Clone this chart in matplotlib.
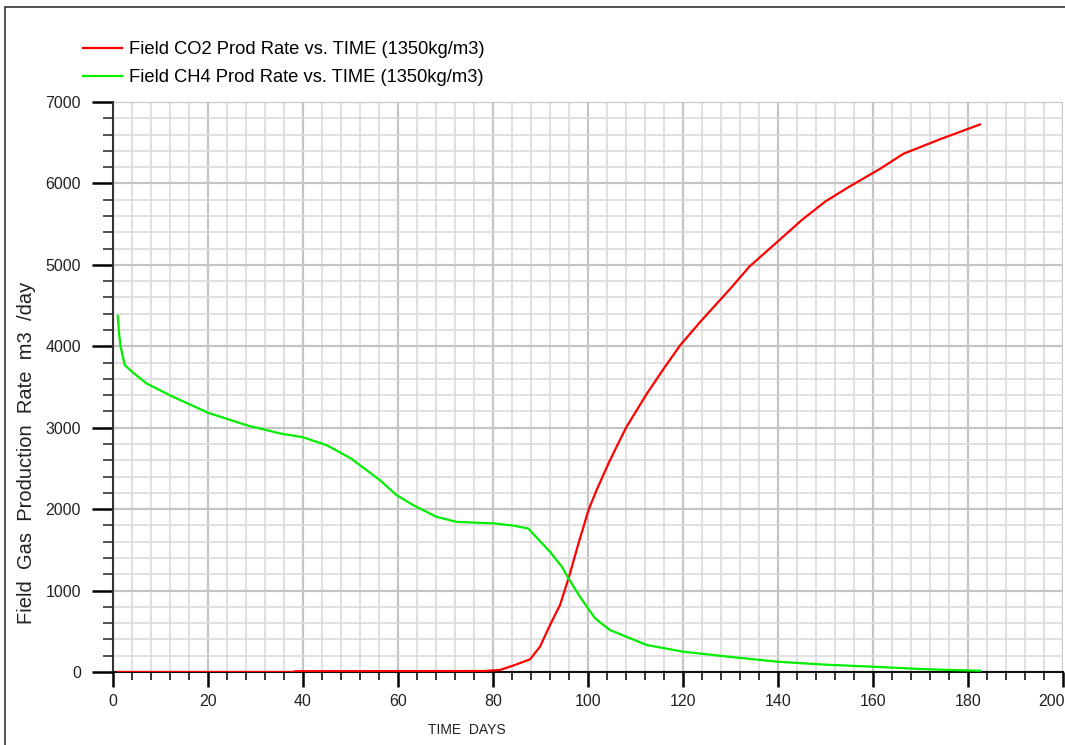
import matplotlib
matplotlib.use("Agg")
import matplotlib.pyplot as plt
from matplotlib.patches import Rectangle
from matplotlib.ticker import MultipleLocator, FuncFormatter

plt.rcParams['font.family'] = ['Liberation Sans', 'DejaVu Sans']

# CO2 production rate (m3/day) vs time (days)
days_co2 = [1, 38, 38.3, 78, 81.5, 84.6, 87.8, 89.9, 92, 94.1, 95.9, 98, 100.1,
            101.8, 104.3, 106, 108.1, 112.4, 116, 119.4, 123.6, 130, 134, 140,
            145, 150, 155, 161.5, 166.4, 174, 182.5]
co2_rate = [0, 0, 10, 12, 25, 86, 156, 311, 577, 822, 1149, 1579, 1988,
            2233, 2560, 2764, 3010, 3419, 3730, 4012, 4298, 4710, 4980, 5290,
            5550, 5780, 5960, 6180, 6364, 6540, 6724]

# CH4 production rate (m3/day) vs time (days)
days_ch4 = [1, 1.3, 1.6, 2.5, 4.3, 7.1, 12.7, 20.1, 28.1, 35.2, 40, 45, 50,
            56.2, 59.7, 63.2, 68.1, 72.3, 80.1, 84, 87.4, 92, 94.5, 95.9, 98.3,
            101.5, 104.6, 108.1, 112.4, 120.1, 130, 140, 150, 160, 170, 176, 182.5]
ch4_rate = [4372, 4150, 3991, 3767, 3673, 3542, 3378, 3182, 3031, 2929, 2883,
            2785, 2626, 2356, 2172, 2049, 1906, 1844, 1825, 1800, 1763, 1476,
            1292, 1149, 924, 659, 515, 433, 331, 249, 185, 126, 90, 65, 37, 25, 16]

labels = ['Field CO2 Prod Rate vs. TIME (1350kg/m3)',
          'Field CH4 Prod Rate vs. TIME (1350kg/m3)']

x_max = 200

fig = plt.figure(figsize=(10.65, 7.45), dpi=100)
ax = fig.add_axes([113/1065, 1 - 672/745, 950/1065, 570/745])

l1, = ax.plot(days_co2, co2_rate, color='#ff0000', lw=1.6, zorder=3)
l2, = ax.plot(days_ch4, ch4_rate, color='#00ee00', lw=1.6, zorder=3)

ax.set_xlim(0, x_max)
ax.set_ylim(0, 7000)
ax.xaxis.set_major_locator(MultipleLocator(20))
ax.xaxis.set_minor_locator(MultipleLocator(4))
ax.yaxis.set_major_locator(MultipleLocator(1000))
ax.yaxis.set_minor_locator(MultipleLocator(200))
# last label is drawn separately so it stays inside the picture
ax.xaxis.set_major_formatter(FuncFormatter(lambda v, p: '' if v >= x_max else f'{v:.0f}'))

ax.grid(which='major', color='#c4c4c4', lw=1.6)
ax.grid(which='minor', color='#dadada', lw=1.2)
ax.set_axisbelow(True)

for s in ['top', 'right']:
    ax.spines[s].set_visible(False)
ax.spines['left'].set_color('#333333')
ax.spines['bottom'].set_color('#111111')
ax.spines['left'].set_linewidth(1.5)
ax.spines['bottom'].set_linewidth(1.5)

ax.tick_params(axis='y', which='major', direction='out', length=15, width=1.8,
               pad=8, labelsize=11.5, colors='black', labelcolor='#222222')
ax.tick_params(axis='y', which='minor', direction='out', length=7.5, width=1.2,
               color='#333333')
ax.tick_params(axis='x', which='major', direction='out', length=10.5, width=1.8,
               pad=5, labelsize=11.5, labelcolor='#222222')
ax.tick_params(axis='x', which='minor', direction='out', length=5.5, width=1.2,
               color='#111111')

ax.annotate(f'{x_max}', xy=(x_max, 0), xycoords=('data', 'axes fraction'),
            xytext=(1, -15.5), textcoords='offset points', ha='right', va='top',
            fontsize=11.5, color='#222222', annotation_clip=False)

fig.text(27/1065, 1 - 453/745, 'Field  Gas  Production  Rate  m3  /day',
         rotation=90, ha='center', va='center', fontsize=14.5, color='#222222')
fig.text(467/1065, 1 - 730/745, 'TIME  DAYS', ha='center', va='center',
         fontsize=10, color='#222222')

fig.legend([l1, l2], labels, loc='upper left',
           bbox_to_anchor=(66/1065, 1 - 25/745), frameon=False,
           fontsize=13.2, handlelength=2.15, handletextpad=0.4,
           labelspacing=0.6)

# outer frame
fig.patches.append(Rectangle((5/1065, -0.05), 1.1, 1 - 7/745 + 0.05,
                             transform=fig.transFigure, fill=False,
                             edgecolor='#333333', lw=1.2))

fig.savefig('out.png', dpi=100)
